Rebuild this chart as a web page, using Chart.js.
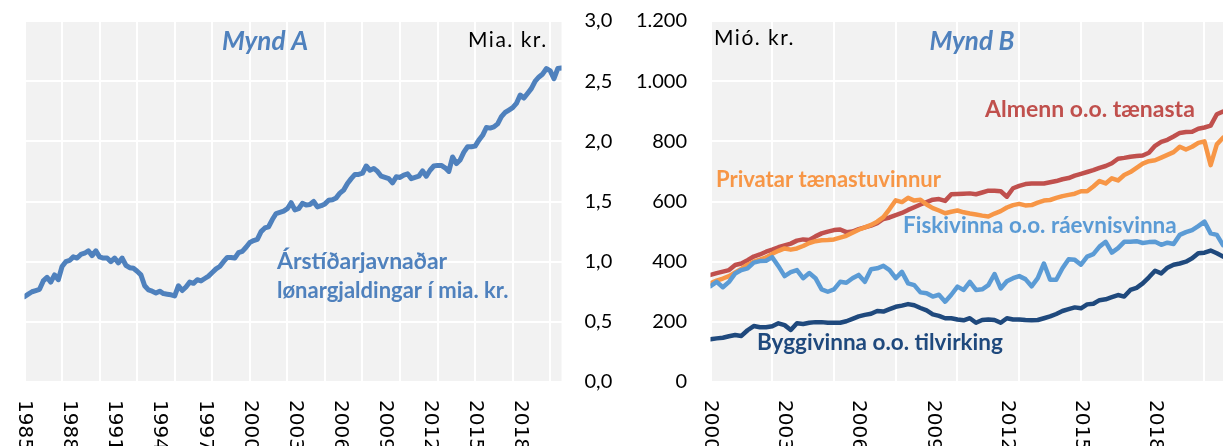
<!DOCTYPE html>
<html>
<head>
<meta charset="utf-8">
<script src="https://cdn.jsdelivr.net/npm/chart.js@4.4.0/dist/chart.umd.min.js"></script>
<style>
  html, body { margin: 0; padding: 0; background: #fff; }
  #wrap { position: relative; width: 1223px; height: 446px; overflow: hidden; }
  canvas { position: absolute; top: 0; }
  #chartA { left: 0; }
  #chartB { left: 620px; }
</style>
</head>
<body>
<div id="wrap">
  <canvas id="chartA" width="620" height="446"></canvas>
  <canvas id="chartB" width="603" height="446"></canvas>
</div>
<script>
// Mynd A - quarterly, 1985 Q1 .. 2020 Q4 (mia. kr.)
const yearTicksA = ["1985", "1988", "1991", "1994", "1997", "2000", "2003", "2006", "2009", "2012", "2015", "2018"];
const wagesA = [
  0.71, 0.73, 0.75, 0.76, 0.77, 0.84, 0.87, 0.83, 0.89, 0.85,
  0.96, 1.00, 1.01, 1.04, 1.03, 1.06, 1.07, 1.09, 1.05, 1.09,
  1.04, 1.03, 1.03, 1.00, 1.03, 0.99, 1.03, 0.97, 0.95, 0.945,
  0.92, 0.89, 0.80, 0.765, 0.755, 0.74, 0.755, 0.735, 0.73, 0.725,
  0.715, 0.80, 0.76, 0.79, 0.83, 0.82, 0.85, 0.84, 0.86, 0.88,
  0.91, 0.94, 0.96, 1.00, 1.035, 1.035, 1.03, 1.075, 1.085, 1.12,
  1.16, 1.175, 1.185, 1.25, 1.28, 1.29, 1.35, 1.40, 1.41, 1.42,
  1.44, 1.49, 1.43, 1.44, 1.485, 1.47, 1.475, 1.50, 1.455, 1.465,
  1.48, 1.51, 1.515, 1.53, 1.57, 1.595, 1.65, 1.69, 1.725, 1.725,
  1.735, 1.795, 1.76, 1.775, 1.75, 1.71, 1.70, 1.69, 1.655, 1.705,
  1.70, 1.72, 1.73, 1.69, 1.70, 1.71, 1.755, 1.71, 1.76, 1.795,
  1.80, 1.80, 1.78, 1.75, 1.87, 1.815, 1.845, 1.91, 1.955, 1.955,
  1.96, 2.01, 2.05, 2.115, 2.11, 2.12, 2.145, 2.205, 2.24, 2.26,
  2.28, 2.315, 2.385, 2.36, 2.40, 2.44, 2.50, 2.535, 2.56, 2.605,
  2.585, 2.52, 2.605, 2.61
];

// Mynd B - quarterly, 2000 Q1 .. 2020 Q4 (mió. kr.)
const yearTicksB = ["2000", "2003", "2006", "2009", "2012", "2015", "2018"];
const almenn = [
  356, 362, 367, 372, 389, 394, 405, 417, 424, 433,
  440, 448, 454, 460, 470, 474, 472, 484, 494, 500,
  505, 507, 498, 500, 508, 514, 520, 528, 542, 547,
  555, 562, 572, 581, 590, 598, 606, 608, 602, 624,
  625, 626, 627, 624, 630, 636, 636, 634, 616, 644,
  652, 658, 660, 660, 660, 664, 668, 674, 678, 686,
  692, 698, 704, 712, 718, 727, 742, 745, 749, 751,
  753, 762, 785, 798, 805, 816, 828, 831, 832, 842,
  846, 852, 890, 899
];
const privatar = [
  328, 337, 344, 352, 364, 376, 390, 400, 407, 414,
  426, 436, 444, 440, 444, 452, 462, 468, 471, 472,
  474, 480, 486, 496, 506, 514, 522, 533, 548, 575,
  604, 598, 612, 603, 606, 590, 578, 570, 561, 566,
  570, 564, 560, 557, 553, 550, 560, 568, 580, 588,
  592, 587, 588, 596, 603, 605, 612, 618, 622, 626,
  634, 634, 650, 668, 660, 677, 670, 688, 698, 712,
  726, 734, 737, 746, 755, 764, 782, 773, 782, 795,
  800, 721, 790, 812
];
const fiskivinna = [
  319, 333, 315, 333, 361, 372, 378, 397, 402, 403,
  415, 385, 352, 365, 372, 345, 362, 345, 308, 300,
  308, 333, 330, 345, 356, 333, 375, 378, 386, 372,
  345, 366, 328, 322, 298, 295, 284, 290, 267, 290,
  317, 306, 333, 306, 308, 322, 359, 311, 335, 345,
  352, 342, 318, 345, 394, 340, 340, 378, 408, 406,
  390, 417, 425, 450, 466, 430, 445, 466, 466, 468,
  462, 465, 466, 456, 463, 459, 489, 498, 505, 518,
  533, 494, 489, 455
];
const byggivinna = [
  142, 145, 147, 152, 156, 153, 172, 186, 182, 182,
  185, 195, 189, 173, 195, 193, 197, 199, 199, 197,
  197, 197, 202, 210, 218, 223, 227, 236, 234, 242,
  250, 254, 259, 255, 246, 238, 225, 220, 212, 212,
  208, 205, 212, 197, 206, 208, 206, 197, 212, 208,
  208, 206, 205, 206, 212, 218, 226, 236, 242, 248,
  245, 258, 260, 272, 275, 282, 289, 284, 306, 313,
  328, 348, 370, 361, 380, 390, 394, 400, 411, 428,
  430, 437, 428, 417
];

const QUARTERS_PER_LABEL = 12;
const QUARTERS_PER_GRID = 10;

function points(values) {
  return values.map((v, i) => ({ x: i, y: v }));
}

// grey plot area like the Excel original
const plotBg = {
  id: "plotBg",
  beforeDraw(chart) {
    const { ctx, chartArea: a } = chart;
    ctx.save();
    ctx.fillStyle = "#f2f2f2";
    ctx.fillRect(a.left, a.top, a.right - a.left, a.bottom - a.top);
    ctx.restore();
  }
};

// year labels, rotated clockwise (reading downwards)
function yearLabels(ticks) {
  return {
    id: "yearLabels",
    afterDraw(chart) {
      const ctx = chart.ctx;
      const xs = chart.scales.x;
      ctx.save();
      ctx.font = "20px 'DejaVu Sans'";
      ctx.fillStyle = "#000";
      ctx.textAlign = "left";
      ctx.textBaseline = "middle";
      ticks.forEach((t, k) => {
        const x = xs.getPixelForValue(k * QUARTERS_PER_LABEL);
        ctx.save();
        ctx.translate(x, 400);
        ctx.rotate(Math.PI / 2);
        ctx.fillText(t, 0, 0);
        ctx.restore();
      });
      ctx.restore();
    }
  };
}

function notes(list) {
  return {
    id: "notes",
    afterDraw(chart) {
      const ctx = chart.ctx;
      ctx.save();
      ctx.textBaseline = "middle";
      list.forEach(n => {
        ctx.font = n.font;
        ctx.fillStyle = n.color;
        ctx.textAlign = n.align || "left";
        ctx.letterSpacing = n.spacing || "0px";
        ctx.fillText(n.text, n.x, n.y);
      });
      ctx.restore();
    }
  };
}

const tickFont = { family: "Lato", size: 20 };

function xScale(n) {
  return {
    type: "linear",
    min: 0,
    max: n - 1,
    ticks: { display: false, stepSize: QUARTERS_PER_GRID, includeBounds: false },
    grid: { color: "#fff", lineWidth: 2, drawTicks: false },
    border: { display: false },
    afterFit(s) { s.height = 64; s.paddingLeft = 0; s.paddingRight = 0; }
  };
}

function lineSet(values, color, width) {
  return {
    data: points(values),
    borderColor: color,
    borderWidth: width,
    borderJoinStyle: "round",
    borderCapStyle: "round",
    pointRadius: 0,
    tension: 0,
    fill: false
  };
}

// ---- Mynd A ----
new Chart(document.getElementById("chartA"), {
  type: "line",
  data: { datasets: [lineSet(wagesA, "#4f81bd", 5)] },
  options: {
    responsive: false,
    animation: false,
    layout: { padding: { left: 24.5, top: 21, right: 0, bottom: 0 } },
    plugins: { legend: { display: false }, tooltip: { enabled: false } },
    scales: {
      x: xScale(wagesA.length),
      y: {
        position: "right",
        min: 0,
        max: 3,
        ticks: {
          stepSize: 0.5,
          padding: 23,
          font: tickFont,
          color: "#000",
          callback: v => v.toFixed(1).replace(".", ",")
        },
        grid: { color: "#fff", lineWidth: 2, drawTicks: false },
        border: { display: false },
        afterFit(s) { s.width = 58.5; s.paddingTop = 0; s.paddingBottom = 0; }
      }
    }
  },
  plugins: [plotBg, yearLabels(yearTicksA), notes([
    { text: "Mynd A", x: 265, y: 42, align: "center", font: "italic bold 26px Lato", color: "#4f81bd" },
    { text: "Mia. kr.", x: 468, y: 40, font: "21px Lato", color: "#000", spacing: "1.5px" },
    { text: "Árstíðarjavnaðar", x: 277, y: 262, font: "bold 23px Lato", color: "#4f81bd" },
    { text: "lønargjaldingar í mia. kr.", x: 277, y: 291, font: "bold 22px Lato", color: "#4f81bd" }
  ])]
});

// ---- Mynd B ----
new Chart(document.getElementById("chartB"), {
  type: "line",
  data: {
    datasets: [
      lineSet(byggivinna, "#1f497d", 4.5),
      lineSet(fiskivinna, "#5b9bd5", 4.5),
      lineSet(privatar, "#f79646", 4.5),
      lineSet(almenn, "#c0504d", 4.5)
    ]
  },
  options: {
    responsive: false,
    animation: false,
    layout: { padding: { left: 0, top: 21, right: 0, bottom: 0 } },
    plugins: { legend: { display: false }, tooltip: { enabled: false } },
    scales: {
      x: xScale(almenn.length),
      y: {
        position: "left",
        min: 0,
        max: 1200,
        ticks: {
          stepSize: 200,
          padding: 23.5,
          font: tickFont,
          color: "#000",
          callback: v => v >= 1000 ? Math.floor(v / 1000) + "." + String(v % 1000).padStart(3, "0") : String(v)
        },
        grid: { color: "#fff", lineWidth: 2, drawTicks: false },
        border: { display: false },
        afterFit(s) { s.width = 90.5; s.paddingTop = 0; s.paddingBottom = 0; }
      }
    }
  },
  plugins: [plotBg, yearLabels(yearTicksB), notes([
    { text: "Mió. kr.", x: 94, y: 38, font: "21px Lato", color: "#000", spacing: "1.5px" },
    { text: "Mynd B", x: 352, y: 42, align: "center", font: "italic bold 26px Lato", color: "#4f81bd" },
    { text: "Almenn o.o. tænasta", x: 365, y: 110, font: "bold 23px Lato", color: "#c0504d" },
    { text: "Privatar tænastuvinnur", x: 96, y: 180, font: "bold 22px Lato", color: "#f79646" },
    { text: "Fiskivinna o.o. ráevnisvinna", x: 283, y: 226, font: "bold 22.5px Lato", color: "#5b9bd5" },
    { text: "Byggivinna o.o. tilvirking", x: 137, y: 343, font: "bold 22.5px Lato", color: "#1f497d" }
  ])]
});
</script>
</body>
</html>
